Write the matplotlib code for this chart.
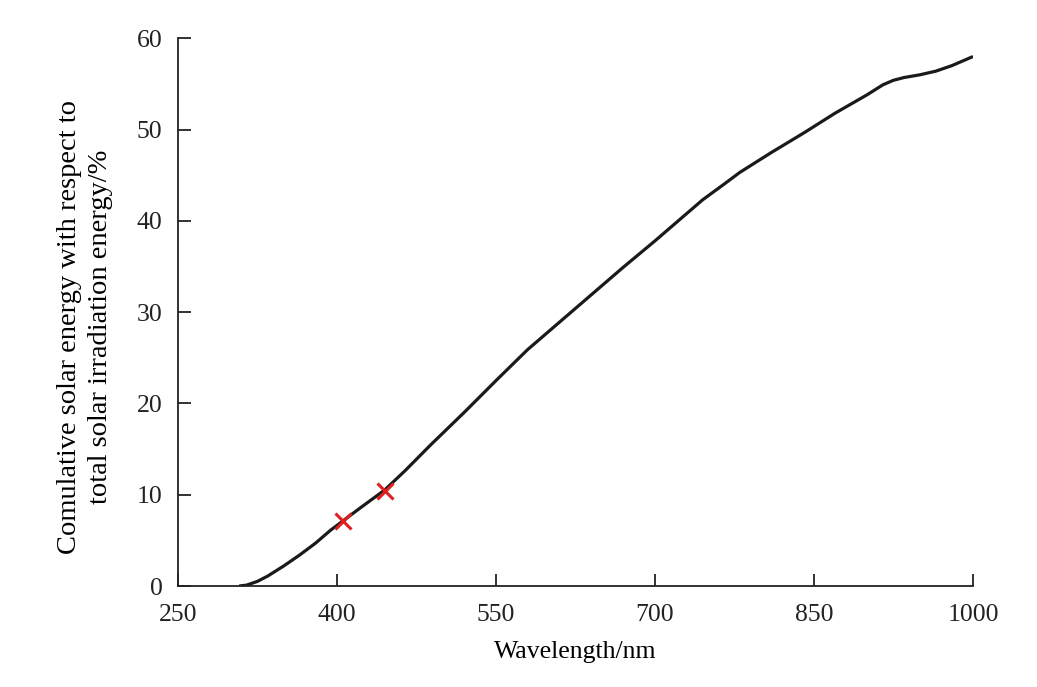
import matplotlib
matplotlib.use("Agg")
import matplotlib.pyplot as plt

# cumulative solar energy curve
wavelength = [308, 315, 325, 335, 350, 365, 380, 394, 410, 425, 445, 465,
              488, 520, 551, 580, 610, 640, 670, 700, 745, 765, 780, 810,
              840, 870, 900, 915, 925, 935, 950, 965, 980, 1000]
cumulative = [0.0, 0.1, 0.5, 1.1, 2.2, 3.4, 4.7, 6.1, 7.5, 8.8, 10.5, 12.7,
              15.4, 19.0, 22.6, 25.9, 28.9, 31.9, 34.9, 37.8, 42.3, 44.0, 45.3,
              47.5, 49.6, 51.8, 53.8, 54.9, 55.4, 55.7, 56.0, 56.4, 57.0, 58.0]

# marked points
mark_x = [406.2, 445.6]
mark_y = [7.15, 10.4]

xticks = [250, 400, 550, 700, 850, 1000]
yticks = [0, 10, 20, 30, 40, 50, 60]

plt.rcParams['font.family'] = ['Liberation Serif', 'DejaVu Serif']

fig = plt.figure(figsize=(10.37, 6.87), dpi=100)
ax = fig.add_axes([0.1714, 0.147, 0.9383 - 0.1714, 0.9443 - 0.147])

ax.plot(wavelength, cumulative, color='#1a1a1a', lw=2.3,
        solid_joinstyle='round', solid_capstyle='butt')
ax.plot(mark_x, mark_y, linestyle='none', marker='x', color='#e02020',
        markersize=11, markeredgewidth=2.2)

ax.set_xlim(250, 1000)
ax.set_ylim(0, 60)
ax.set_xticks(xticks)
ax.set_yticks(yticks)

for side in ['top', 'right']:
    ax.spines[side].set_visible(False)
for side in ['left', 'bottom']:
    ax.spines[side].set_linewidth(1.3)
    ax.spines[side].set_color('#222222')

ax.tick_params(axis='both', direction='in', length=9, width=1.3,
               colors='#222222', labelsize=18.5)
ax.tick_params(axis='y', pad=11)
ax.tick_params(axis='x', pad=13)

ax.set_xlabel('Wavelength/nm', fontsize=18.5, labelpad=11)
ax.set_ylabel('Comulative solar energy with respect to\ntotal solar irradiation energy/%',
              fontsize=20.5, labelpad=17, linespacing=1.3)
ax.yaxis.label.set_y(0.473)

fig.savefig('out.png', dpi=100)
